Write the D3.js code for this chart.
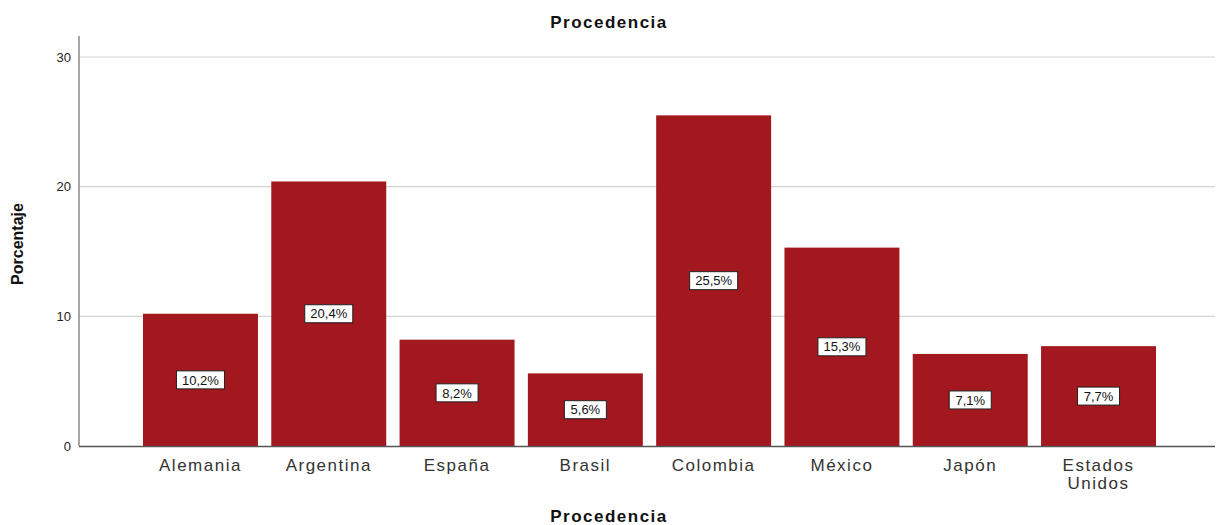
<!DOCTYPE html>
<html><head><meta charset="utf-8">
<script src="https://cdn.jsdelivr.net/npm/d3@7"></script>
<style>body{margin:0;background:#fff;} text{font-family:"Liberation Sans",Arial,sans-serif;}</style>
</head><body>
<svg id="c" width="1222" height="525"></svg>
<script>
const categories = ["Alemania","Argentina","España","Brasil","Colombia","México","Japón","Estados Unidos"];
const values = [10.2, 20.4, 8.2, 5.6, 25.5, 15.3, 7.1, 7.7];
const labels = ["10,2%","20,4%","8,2%","5,6%","25,5%","15,3%","7,1%","7,7%"];
const yTicks = [0, 10, 20, 30];

const svg = d3.select("#c");
const y = d3.scaleLinear().domain([0, 30]).range([446, 57]);
const x = d3.scaleBand().domain(categories).range([143, 1156]).paddingInner(0.104).paddingOuter(0);

// gridlines
svg.append("g").selectAll("line").data(yTicks.filter(d => d > 0)).join("line")
  .attr("x1", 79).attr("x2", 1215).attr("y1", d => y(d)).attr("y2", d => y(d))
  .attr("stroke", "#d4d4d4").attr("stroke-width", 1.2);

// y axis
const yAxis = svg.append("g").attr("transform", "translate(79,0)")
  .call(d3.axisLeft(y).tickValues(yTicks).tickSize(0).tickPadding(8));
yAxis.select(".domain").remove();
yAxis.selectAll("text").attr("font-size", 13).attr("fill", "#222")
  .style("font-family", "'Liberation Sans',Arial,sans-serif");
svg.append("line").attr("x1", 79).attr("x2", 79).attr("y1", 36).attr("y2", 446)
  .attr("stroke", "#777").attr("stroke-width", 1.3);

// bars
svg.append("g").selectAll("rect").data(values).join("rect")
  .attr("x", (d, i) => x(categories[i])).attr("width", x.bandwidth())
  .attr("y", d => y(d)).attr("height", d => y(0) - y(d))
  .attr("fill", "#a3171e");

// x axis line
svg.append("line").attr("x1", 79).attr("x2", 1215).attr("y1", 446.5).attr("y2", 446.5)
  .attr("stroke", "#555").attr("stroke-width", 1.3);

// value labels
const lg = svg.append("g").selectAll("g").data(values).join("g")
  .attr("transform", (d, i) => `translate(${x(categories[i]) + x.bandwidth() / 2},${(y(d) + y(0)) / 2})`);
lg.append("rect").attr("x", (d, i) => labels[i].length > 4 ? -24 : -21).attr("y", -9)
  .attr("width", (d, i) => labels[i].length > 4 ? 48 : 42).attr("height", 18)
  .attr("fill", "#fff").attr("stroke", "#222").attr("stroke-width", 1);
lg.append("text").attr("text-anchor", "middle").attr("dy", "0.36em")
  .attr("font-size", 13).attr("fill", "#111").text((d, i) => labels[i]);

// category labels
const cg = svg.append("g").selectAll("text").data(categories).join("text")
  .attr("x", d => x(d) + x.bandwidth() / 2).attr("y", 471)
  .attr("text-anchor", "middle").attr("font-size", 17).attr("fill", "#333")
  .attr("letter-spacing", 1.5);
cg.each(function(d) {
  const parts = d === "Estados Unidos" ? ["Estados", "Unidos"] : [d];
  const t = d3.select(this);
  parts.forEach((p, k) => t.append("tspan").attr("x", t.attr("x")).attr("dy", k ? 18 : 0).text(p));
});

// titles
svg.append("text").attr("x", 609).attr("y", 28).attr("text-anchor", "middle")
  .attr("font-size", 17).attr("font-weight", "bold").attr("fill", "#111").attr("letter-spacing", 1.5).text("Procedencia");
svg.append("text").attr("x", 609).attr("y", 522).attr("text-anchor", "middle")
  .attr("font-size", 17).attr("font-weight", "bold").attr("fill", "#111").attr("letter-spacing", 1.5).text("Procedencia");
svg.append("text").attr("transform", "translate(23,244) rotate(-90)").attr("text-anchor", "middle")
  .attr("font-size", 16).attr("font-weight", "bold").attr("fill", "#111")
  .style("font-family", "'Liberation Sans Narrow','Liberation Sans',Arial,sans-serif")
  .text("Porcentaje");
</script>
</body></html>
